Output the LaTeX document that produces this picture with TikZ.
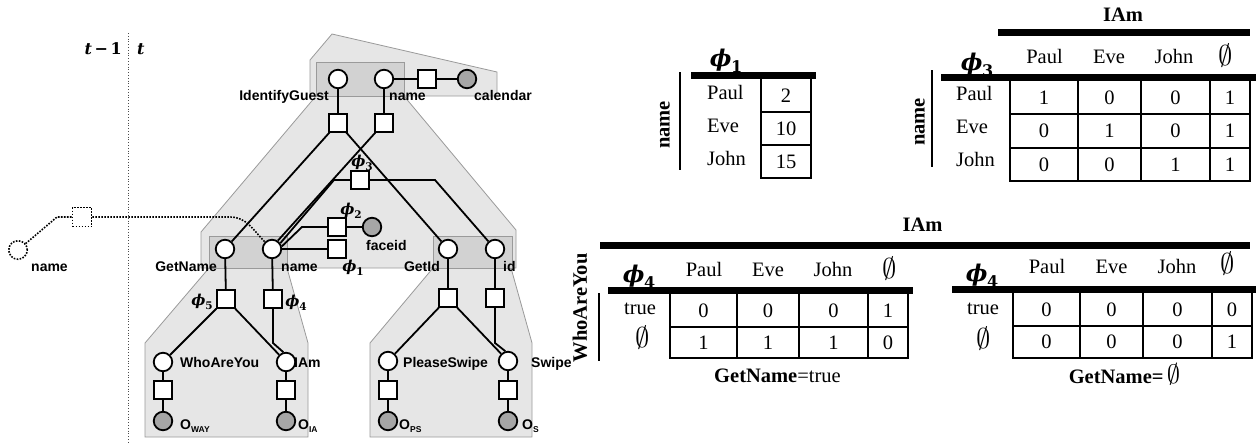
\RequirePackage{fix-cm}
\documentclass[tikz,border=0pt]{standalone}
\usepackage{amsmath}
\usepackage{graphicx}
\usepackage[no-math]{fontspec}
\setmainfont{Liberation Serif}
\setsansfont{Liberation Sans}
\newfontfamily\phif{DejaVu Serif}
\newcommand{\phisub}[2]{{\phif\bfseries\itshape ϕ\kern-0.02em\raisebox{-0.28em}{\upshape\fontsize{#2}{#2}\selectfont #1}}}
\newcommand{\bigempty}{\scalebox{1.3}{$\emptyset$}}
\definecolor{obsgray}{HTML}{A6A6A6}
\definecolor{lightrg}{HTML}{E6E6E6}
\definecolor{darkrg}{HTML}{D2D2D2}
\definecolor{regborder}{HTML}{9A9A9A}
\begin{document}
\begin{tikzpicture}[x=1pt,y=-1pt,
  varn/.style={circle,draw,line width=1.8pt,fill=white,minimum size=18.5pt,inner sep=0},
  obn/.style={varn,fill=obsgray},
  facn/.style={rectangle,draw,line width=1.8pt,fill=white,minimum size=17.5pt,inner sep=0},
  edg/.style={line width=1.8pt},
  lb/.style={font=\sffamily\bfseries\fontsize{14}{16}\selectfont,inner sep=0},
  ph/.style={font=\fontsize{15}{18}\selectfont,inner sep=0},
  tph/.style={font=\fontsize{23}{26}\selectfont,inner sep=0},
  tx/.style={font=\fontsize{20.5}{24}\selectfont,inner sep=0},
  txb/.style={font=\bfseries\fontsize{20.5}{24}\selectfont,inner sep=0},
  emp/.style={font=\fontsize{22}{24}\selectfont,inner sep=0},
  tbar/.style={line width=7pt},
  thk/.style={line width=2.5pt},
  thn/.style={line width=1.2pt},
  vln/.style={line width=1.8pt},
  dotl/.style={line width=1.6pt,dash pattern=on 1.6pt off 1.4pt},
  regn/.style={fill=lightrg,draw=regborder,line width=0.8pt},
  dregn/.style={fill=darkrg,draw=regborder,line width=0.8pt}
]
\useasboundingbox (0,0) rectangle (1258,442);

% ---------- regions ----------
\draw[regn] (310,60) -- (332,34) -- (497,72) -- (497,96) -- (404,96) -- (516,230) -- (516,268) -- (511,268)
  -- (532,343) -- (532,437) -- (370,437) -- (370,343) -- (433,268) -- (287,268) -- (308,343) -- (308,437)
  -- (145,437) -- (145,343) -- (209,268) -- (201,268) -- (201,232) -- (316,96) -- (310,96) -- cycle;
\draw[dregn] (316,62) rectangle (404,96);
\draw[dregn] (209,236) rectangle (287,268);
\draw[dregn] (433,236) rectangle (512,268);

% ---------- time ----------
\draw[dotted,line width=0.8pt,black!70] (128,33) -- (128,442);
\node[anchor=base east,font=\phif\bfseries\fontsize{16}{20}\selectfont,inner sep=0] (tm1) at (122,54) {\textit{t}\,−\,1};
\node[anchor=base west,font=\phif\bfseries\itshape\fontsize{16}{20}\selectfont,inner sep=0] (tt) at (137,54) {t};

% ---------- graph nodes ----------
\node[varn] (IG) at (338,79) {};
\node[varn] (NT) at (384,79) {};
\node[facn] (FC) at (427,79) {};
\node[obn] (CAL) at (467,79) {};
\node[facn] (FIG) at (338,123) {};
\node[facn] (FNT) at (384,123) {};
\node[facn] (F3) at (360,180) {};
\node[facn] (F2) at (337,227) {};
\node[obn] (FID) at (372,227) {};
\node[facn] (F1) at (337,249) {};
\node[varn] (GN) at (225,249) {};
\node[varn] (NM) at (272,249) {};
\node[varn] (GI) at (448,249) {};
\node[varn] (ID) at (495,249) {};
\node[facn] (F5) at (226,299) {};
\node[facn] (F4) at (273,299) {};
\node[facn] (FGI) at (448,298) {};
\node[facn] (FIDD) at (495,298) {};
\node[varn] (WAY) at (163,362) {};
\node[varn] (IAM) at (286,362) {};
\node[varn] (PS) at (388,361) {};
\node[varn] (SW) at (508,361) {};
\node[facn] (FWAY) at (163,390) {};
\node[facn] (FIAM) at (286,390) {};
\node[facn] (FPS) at (388,390) {};
\node[facn] (FSW) at (508,390) {};
\node[obn] (OWAY) at (163,421) {};
\node[obn] (OIA) at (286,421) {};
\node[obn] (OPS) at (388,421) {};
\node[obn] (OS) at (508,421) {};

% ghost (t-1)
\node[varn,dotl,fill=none] (GH) at (18,250) {};
\node[facn,dotl,fill=none,minimum size=19pt] (GF) at (82,217) {};
\coordinate (gb1) at (57,217);
\coordinate (gb2) at (230,217);
\draw[dotl] (GH.40) -- (gb1) -- (GF);
\draw[dotl] (GF) -- (gb2) to[out=0,in=135] (NM.135);

% ---------- edges ----------
\coordinate (b3) at (334,180);
\coordinate (b3r) at (435,180);
\coordinate (b2) at (302,227);
\coordinate (b4) at (273,343);
\coordinate (bid) at (495,343);
\draw[edg] (IG) -- (FIG);
\draw[edg] (NT) -- (FNT);
\draw[edg] (NT) -- (FC) -- (CAL);
\draw[edg] (FIG) -- (GN);
\draw[edg] (FIG) -- (GI);
\draw[edg] (FNT) -- (NM.55);
\draw[edg] (NM.35) -- (b3) -- (F3);
\draw[edg] (F3) -- (b3r) -- (ID);
\draw[edg] (NM.15) -- (b2) -- (F2);
\draw[edg] (F2) -- (FID);
\draw[edg] (NM) -- (F1);
\draw[edg] (GN) -- (F5);
\draw[edg] (NM) -- (F4);
\draw[edg] (GI) -- (FGI);
\draw[edg] (ID) -- (FIDD);
\draw[edg] (F5) -- (WAY);
\draw[edg] (F5) -- (IAM);
\draw[edg] (F4) -- (b4) -- (IAM.105);
\draw[edg] (FGI) -- (PS);
\draw[edg] (FGI) -- (SW);
\draw[edg] (FIDD) -- (bid) -- (SW.105);
\draw[edg] (WAY) -- (FWAY) -- (OWAY);
\draw[edg] (IAM) -- (FIAM) -- (OIA);
\draw[edg] (PS) -- (FPS) -- (OPS);
\draw[edg] (SW) -- (FSW) -- (OS);

% ---------- graph labels ----------
\node[lb,anchor=base east] (lIG) at (329,100) {IdentifyGuest};
\node[lb,anchor=base west] (lNT) at (389,100) {name};
\node[lb,anchor=base west] (lCAL) at (474,100) {calendar};
\node[lb,anchor=base west] (lFID) at (366,250) {faceid};
\node[lb,anchor=base east] (lGN) at (217,271) {GetName};
\node[lb,anchor=base west] (lNM) at (281,271) {name};
\node[lb,anchor=base east] (lGI) at (440,271) {GetId};
\node[lb,anchor=base west] (lID) at (503,271) {id};
\node[lb,anchor=base west] (lWAY) at (180,367) {WhoAreYou};
\node[lb,anchor=base west] (lIAM) at (294,367) {IAm};
\node[lb,anchor=base west] (lPS) at (403,367) {PleaseSwipe};
\node[lb,anchor=base west] (lSW) at (531,367) {Swipe};
\node[lb,anchor=base west] (lOWAY) at (180,429) {O\raisebox{-3pt}{\fontsize{8.5}{9}\selectfont WAY}};
\node[lb,anchor=base west] (lOIA) at (298,429) {O\raisebox{-3pt}{\fontsize{8.5}{9}\selectfont IA}};
\node[lb,anchor=base west] (lOPS) at (399,429) {O\raisebox{-3pt}{\fontsize{8.5}{9}\selectfont PS}};
\node[lb,anchor=base west] (lOS) at (522,429) {O\raisebox{-3pt}{\fontsize{8.5}{9}\selectfont S}};
\node[lb,anchor=base] (lGH) at (49.5,271) {name};
\node[ph] (l3) at (362,163) {\phisub{3}{10.5}};
\node[ph] (l2) at (351,211) {\phisub{2}{10.5}};
\node[ph] (l1) at (353,268) {\phisub{1}{10.5}};
\node[ph] (l5) at (202,302) {\phisub{5}{10.5}};
\node[ph] (l4) at (296,303) {\phisub{4}{10.5}};

% ---------- table phi1 ----------
\node[tph] (t1phi) at (726,61) {\phisub{1}{16}};
\draw[tbar] (691,75.5) -- (816,75.5);
\draw[vln] (680,72) -- (680,170);
\node[txb,rotate=90] (t1var) at (665,125) {name};
\foreach \n/\y in {Paul/99,Eve/132,John/165} \node[tx,anchor=base west] (t1r\n) at (707,\y) {\n};
\draw[thn] (761,112) -- (811,112) (761,145) -- (811,145) (761,178) -- (811,178) (811,79) -- (811,178.6);
\draw[thk] (761,79) -- (761,179);
\foreach \v/\y in {2/95.5,10/128.5,15/161.5} \node[tx] (t1v\v) at (786,\y) {\v};

% ---------- table phi3 ----------
\node[txb,anchor=base] (t3top) at (1123,21) {IAm};
\draw[tbar] (998,32) -- (1250,32);
\foreach \n/\x in {Paul/1044.5,Eve/1109,John/1174} \node[tx,anchor=base] (t3c\n) at (\x,63) {\n};
\node[emp] (t3ce) at (1226,56) {\bigempty};
\node[tph] (t3phi) at (977,65) {\phisub{3}{16}};
\draw[tbar] (941,77.5) -- (1256,77.5);
\draw[vln] (932,70) -- (932,167);
\node[txb,rotate=90] (t3var) at (920,122) {name};
\foreach \n/\y in {Paul/100,Eve/133,John/166} \node[tx,anchor=base west] (t3r\n) at (956,\y) {\n};
\draw[thn] (1010,114) -- (1250,114) (1010,148) -- (1250,148) (1010,181) -- (1250,181)
  (1078,81) -- (1078,181) (1141,81) -- (1141,181) (1210,81) -- (1210,181);
\draw[thk] (1010,81) -- (1010,182) (1250,81) -- (1250,182);
\foreach \r/\y/\a/\b/\c/\d in {1/97.5/1/0/0/1,2/131/0/1/0/1,3/164.5/0/0/1/1}{
  \node[tx] (t3v\r a) at (1044,\y) {\a};
  \node[tx] (t3v\r b) at (1109.5,\y) {\b};
  \node[tx] (t3v\r c) at (1175.5,\y) {\c};
  \node[tx] (t3v\r d) at (1230,\y) {\d};
}

% ---------- table phi4 (left) ----------
\draw[tbar] (600,245) -- (1250,245);
\node[txb,anchor=base] (t4top) at (922.5,231) {IAm};
\node[tph] (t4phi) at (639,277) {\phisub{4}{16}};
\foreach \n/\x in {Paul/704,Eve/768,John/833} \node[tx,anchor=base] (t4c\n) at (\x,276) {\n};
\node[emp] (t4ce) at (889.5,268.5) {\bigempty};
\draw[tbar] (608,290) -- (913,290);
\draw[vln] (599,293) -- (599,361);
\node[txb,rotate=90] (t4var) at (580,308) {WhoAreYou};
\node[tx,anchor=base] (t4rt) at (640,314) {true};
\node[emp] (t4re) at (643,338) {\bigempty};
\draw[thn] (670,327) -- (908,327) (670,358) -- (908,358)
  (737,294) -- (737,358) (799,294) -- (799,358) (868,294) -- (868,358);
\draw[thk] (670,294) -- (670,359) (908,294) -- (908,359);
\foreach \r/\y/\a/\b/\c/\d in {1/310.5/0/0/0/1,2/342.5/1/1/1/0}{
  \node[tx] (t4v\r a) at (703.5,\y) {\a};
  \node[tx] (t4v\r b) at (768,\y) {\b};
  \node[tx] (t4v\r c) at (833.5,\y) {\c};
  \node[tx] (t4v\r d) at (888,\y) {\d};
}
\node[tx,anchor=base] (t4cap) at (777.5,382) {\textbf{GetName}=true};

% ---------- table phi4 (right) ----------
\node[tph] (t5phi) at (982,276) {\phisub{4}{16}};
\foreach \n/\x in {Paul/1047,Eve/1111.5,John/1177} \node[tx,anchor=base] (t5c\n) at (\x,273) {\n};
\node[emp] (t5ce) at (1227.5,263.5) {\bigempty};
\draw[tbar] (952,289.5) -- (1256,289.5);
\node[tx,anchor=base] (t5rt) at (983,314) {true};
\node[emp] (t5re) at (983.5,339) {\bigempty};
\draw[thn] (1013,326) -- (1252,326) (1013,358) -- (1252,358)
  (1080,293) -- (1080,358) (1143,293) -- (1143,358) (1212,293) -- (1212,358);
\draw[thk] (1013,293) -- (1013,359) (1252,293) -- (1252,359);
\foreach \r/\y/\a/\b/\c/\d in {1/309.5/0/0/0/0,2/342/0/0/0/1}{
  \node[tx] (t5v\r a) at (1046.5,\y) {\a};
  \node[tx] (t5v\r b) at (1111.5,\y) {\b};
  \node[tx] (t5v\r c) at (1177.5,\y) {\c};
  \node[tx] (t5v\r d) at (1232,\y) {\d};
}
\node[tx,anchor=base] (t5cap) at (1124.5,383) {\textbf{GetName=}\,\bigempty};
\end{tikzpicture}
\end{document}
